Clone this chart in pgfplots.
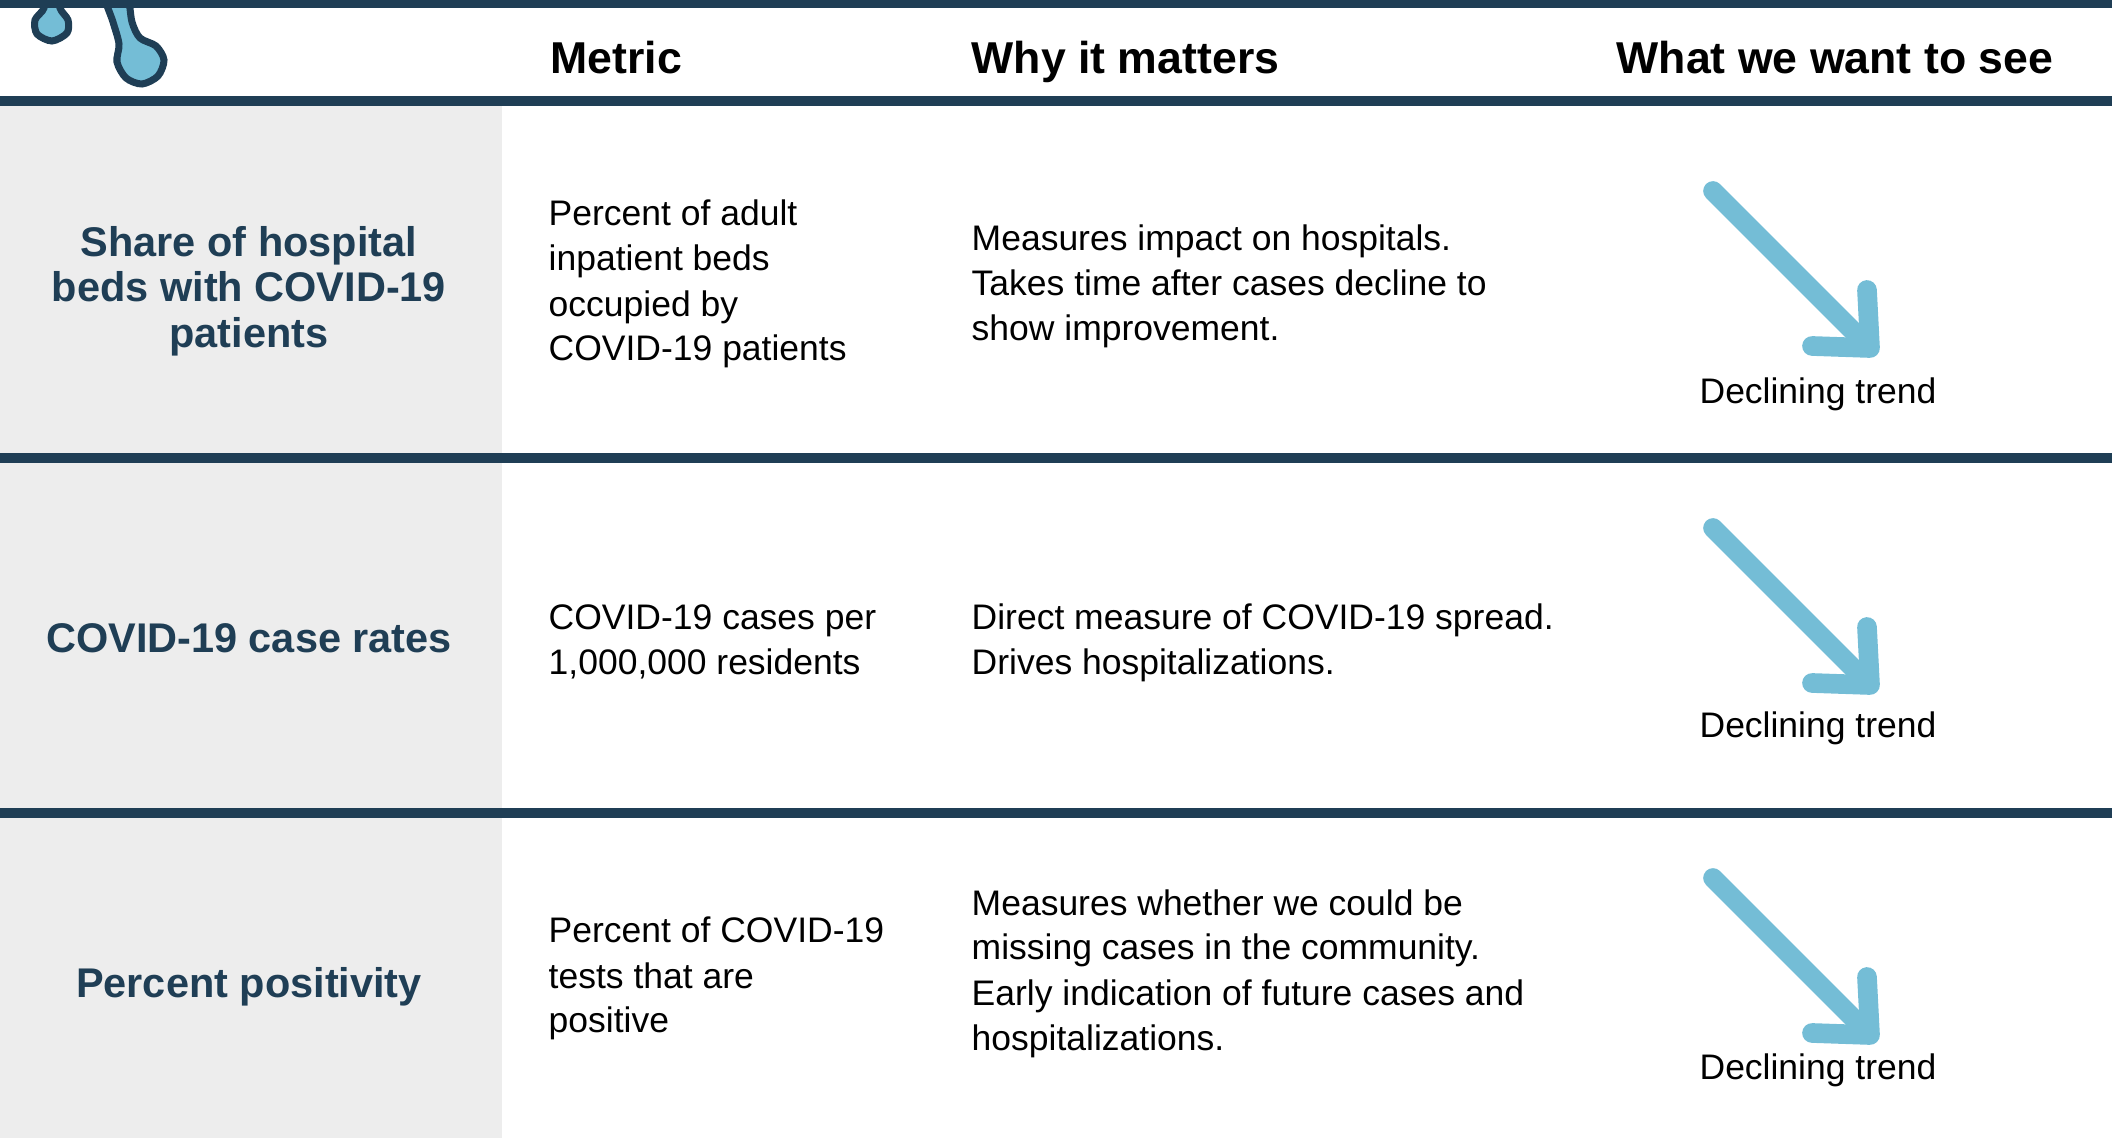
\documentclass[border=0pt]{standalone}
\usepackage{pgfplots}
\pgfplotsset{compat=1.18}
\usepackage{fontspec}
\setmainfont{Liberation Sans}
\definecolor{navy}{HTML}{1F3E55}
\definecolor{lb}{HTML}{74BDD6}
\definecolor{cellgrey}{HTML}{EDEDED}
\newcommand\bodyfont{\fontsize{10.1}{12.8}\selectfont}
\newcommand\hdfont{\fontsize{12.7}{15}\selectfont\bfseries}
\newcommand\rowfont{\fontsize{11.8}{12.8}\selectfont\bfseries\color{navy}}
\newcommand\tl[3]{\node[anchor=base west,inner sep=0pt,font=\bodyfont] at (axis cs:#1,#2) {#3};}
\newcommand\rl[2]{\node[anchor=base,inner sep=0pt,font=\rowfont] at (axis cs:249,#1) {#2};}
\begin{document}
\begin{tikzpicture}
\begin{axis}[
  width=21.12cm, height=11.38cm, scale only axis,
  xmin=0, xmax=2112, ymin=0, ymax=1138, y dir=reverse,
  hide axis, clip=false]
% backgrounds
\fill[cellgrey] (axis cs:0,106) rectangle (axis cs:502,1138);
% drops icon
\begin{scope}
\clip (axis cs:0,0) rectangle (axis cs:300,96);
\filldraw[fill=lb, draw=navy, line width=2pt] plot[smooth cycle] coordinates {(axis cs:42,-8) (44,8) (35,20) (37,34) (52,41) (67,33) (68,20) (60,8) (62,-8)};
\filldraw[fill=lb, draw=navy, line width=2pt] plot[smooth cycle] coordinates {(axis cs:104,-8) (113,22) (119,44) (117,62) (126,78) (142,84) (158,76) (164,60) (156,46) (140,38) (132,22) (126,-8)};
\end{scope}
% rules
\fill[navy] (axis cs:0,0) rectangle (axis cs:2112,8);
\fill[navy] (axis cs:0,96) rectangle (axis cs:2112,106);
\fill[navy] (axis cs:0,453) rectangle (axis cs:2112,463);
\fill[navy] (axis cs:0,808) rectangle (axis cs:2112,818);
% headers
\node[anchor=base west,inner sep=0pt,font=\hdfont] at (axis cs:550,74) {Metric};
\node[anchor=base west,inner sep=0pt,font=\hdfont] at (axis cs:971,74) {Why it matters};
\node[anchor=base west,inner sep=0pt,font=\hdfont] at (axis cs:1616,74) {What we want to see};
% row labels
\rl{257}{Share of hospital}
\rl{302}{beds with COVID-19}
\rl{348}{patients}
\rl{653}{COVID-19 case rates}
\rl{998}{Percent positivity}
% metric
\tl{548}{226}{Percent of adult}
\tl{548}{271}{inpatient beds}
\tl{548}{317}{occupied by}
\tl{548}{361}{COVID-19 patients}
\tl{548}{630}{COVID-19 cases per}
\tl{548}{675}{1,000,000 residents}
\tl{548}{943}{Percent of COVID-19}
\tl{548}{989}{tests that are}
\tl{548}{1033}{positive}
% why
\tl{971}{251}{Measures impact on hospitals.}
\tl{971}{296}{Takes time after cases decline to}
\tl{971}{341}{show improvement.}
\tl{971}{630}{Direct measure of COVID-19 spread.}
\tl{971}{675}{Drives hospitalizations.}
\tl{971}{916}{Measures whether we could be}
\tl{971}{960}{missing cases in the community.}
\tl{971}{1006}{Early indication of future cases and}
\tl{971}{1051}{hospitalizations.}
% declining trend labels
\node[anchor=base,inner sep=0pt,font=\bodyfont] at (axis cs:1818,404) {Declining trend};
\node[anchor=base,inner sep=0pt,font=\bodyfont] at (axis cs:1818,738) {Declining trend};
\node[anchor=base,inner sep=0pt,font=\bodyfont] at (axis cs:1818,1080) {Declining trend};
% arrows
\pgfplotsset{arr/.style={lb, line width=5.6pt, line cap=round, line join=round, mark=none}}
\addplot[arr] coordinates {(1713,191) (1866,344)};
\addplot[arr] coordinates {(1867,290) (1870,348) (1812,346)};
\addplot[arr] coordinates {(1713,528) (1866,681)};
\addplot[arr] coordinates {(1867,627) (1870,685) (1812,683)};
\addplot[arr] coordinates {(1713,878) (1866,1031)};
\addplot[arr] coordinates {(1867,977) (1870,1035) (1812,1033)};
\end{axis}
\end{tikzpicture}
\end{document}
